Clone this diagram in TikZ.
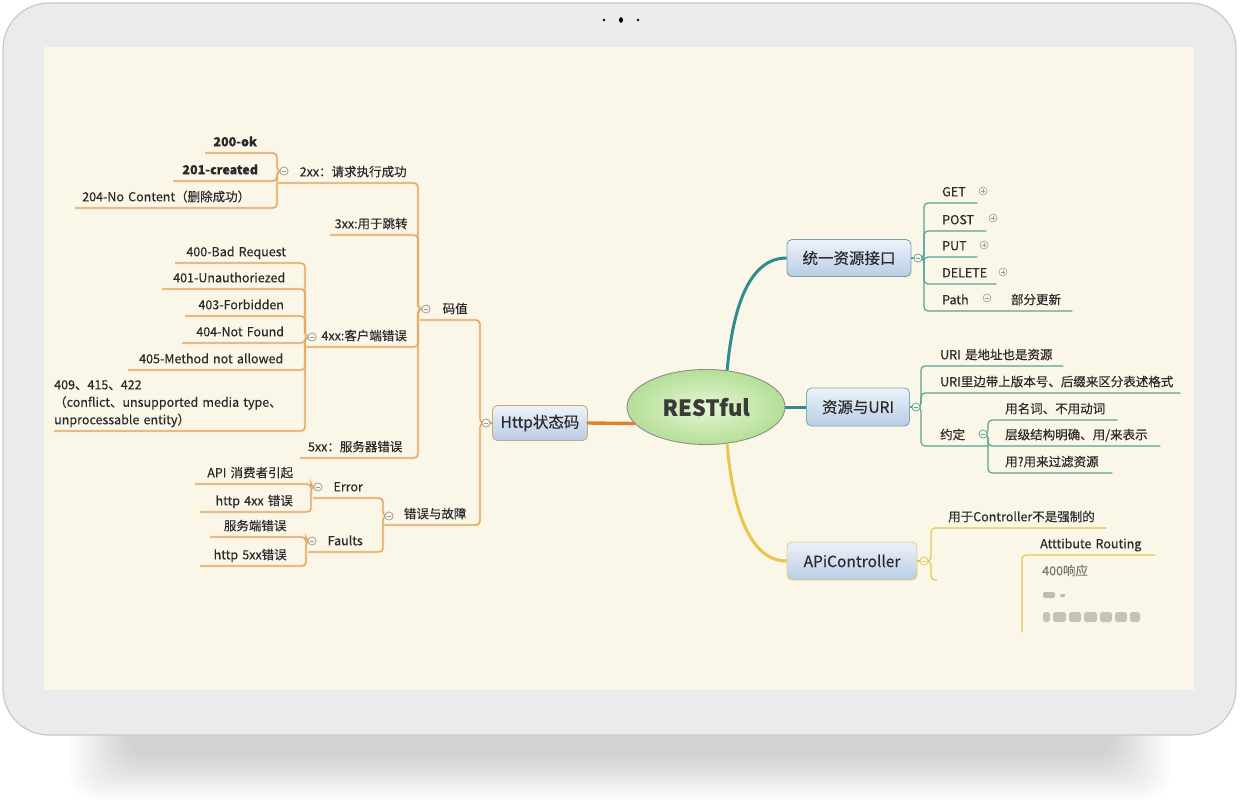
\documentclass[tikz,border=0pt]{standalone}
\usepackage{fontspec}
\setmainfont{Noto Sans CJK SC}[FakeBold=0.35]
\usetikzlibrary{shapes.geometric}
\definecolor{cream}{HTML}{FAF7E8}
\definecolor{framec}{HTML}{EBEBEB}
\definecolor{frameb}{HTML}{C9C9C9}
\definecolor{orl}{HTML}{E3A255}
\definecolor{ord}{HTML}{E27E32}
\definecolor{tea}{HTML}{55A597}
\definecolor{tead}{HTML}{2F8C8A}
\definecolor{yel}{HTML}{E8C64A}
\definecolor{txt}{HTML}{2A2A2A}
\definecolor{mkc}{HTML}{9A9A9A}
\definecolor{boxt}{HTML}{EDF3FB}
\definecolor{boxb}{HTML}{B9CCE5}
\definecolor{ellb}{HTML}{8C8C8C}
\definecolor{elli}{HTML}{E6F6D4}
\definecolor{ello}{HTML}{B4DF97}
\definecolor{restt}{HTML}{3A3A3A}
\definecolor{httpb}{HTML}{C8A878}
\definecolor{unib}{HTML}{7AA0A5}
\definecolor{resb}{HTML}{78B0B0}
\definecolor{apib}{HTML}{E4CD7D}
\newcommand\lfn[6][]{\node[lf,text width=#4pt,#1] (#2) at (#3,#5) {#6};}
\begin{document}
\begin{tikzpicture}[x=1pt,y=-1pt,
 lf/.style={font=\fontsize{12.5}{17.5}\selectfont, text=txt, inner xsep=0pt, inner ysep=3pt, text depth=3.5pt, anchor=south west, align=center},
 rl/.style={align=left},
 bld/.style={font=\fontsize{12.5}{17.5}\selectfont\bfseries},
 ob/.style={draw=orl, line width=1.3pt, rounded corners=4pt, preaction={draw=orl!40, line width=3.4pt, opacity=0.35}},
 tb/.style={draw=tea, line width=1.2pt, rounded corners=4pt},
 yb/.style={draw=yel, line width=1.2pt, rounded corners=4pt},
 mkm/.style={circle, draw=#1, fill=cream, line width=0.6pt, inner sep=0pt, minimum size=8pt,
   path picture={\draw[#1, line width=0.7pt] ([xshift=-2.3pt]path picture bounding box.center) -- ([xshift=2.3pt]path picture bounding box.center);}},
 mkm/.default=mkc,
 mkp/.style={circle, draw=mkc, fill=cream, line width=0.6pt, inner sep=0pt, minimum size=8pt,
   path picture={\draw[mkc, line width=0.7pt] ([xshift=-2.3pt]path picture bounding box.center) -- ([xshift=2.3pt]path picture bounding box.center);
   \draw[mkc, line width=0.7pt] ([yshift=-2.3pt]path picture bounding box.center) -- ([yshift=2.3pt]path picture bounding box.center);}},
 topic/.style={rounded corners=5pt, draw=#1, line width=0.9pt, top color=boxt, bottom color=boxb, minimum height=37pt, text=txt, font=\fontsize{15.5}{18}\selectfont, inner sep=0pt}
]
\useasboundingbox (0,0) rectangle (1240,805);
% shadow
\foreach \i in {0,...,14} {\fill[black, opacity=0.010, rounded corners=25pt] ({70+\i*4},700) rectangle ({1170-\i*4},{800-\i*3});}
% frame
\draw[rounded corners=46pt, fill=framec, draw=frameb, line width=1.2pt] (3,3) rectangle (1236,735);
\fill[cream] (44,47) rectangle (1194,690);
\fill[black] (604,20) circle (1.4);
\fill[black] (621,20) ellipse (2 and 2.8);
\fill[black] (638,20) circle (1.4);

% coordinates of buses
\coordinate (b0) at (480,0);
\coordinate (bm) at (418,0);
\coordinate (b2) at (277,0);
\coordinate (b4) at (305,0);
\coordinate (be) at (383,0);
\coordinate (ber) at (311,0);
\coordinate (bfa) at (306,0);
\coordinate (bu) at (924,0);
\coordinate (br) at (921,0);
\coordinate (by) at (988,0);
\coordinate (ba) at (931,0);
\coordinate (ahid) at (937,580);
\coordinate (arb) at (1022,632);

% central topics
\node[ellipse, draw=ellb, line width=0.9pt, inner color=elli, outer color=ello, minimum width=158pt, minimum height=75pt, inner sep=0pt, font=\fontsize{22}{26}\selectfont\bfseries, text=restt] (rest) at (706,407) {RESTful};
\node[topic=httpb, minimum width=95pt, minimum height=35pt] (http) at (540,423) {Http状态码};
\node[topic=unib, minimum width=124pt] (uni) at (849,258) {统一资源接口};
\node[topic=resb, minimum width=103pt, minimum height=38pt] (res) at (858,407) {资源与URI};
\node[topic=apib, minimum width=130pt, minimum height=38pt] (api) at (852,561) {APiController};

% main connectors
\draw[ord, line width=3.4pt, line cap=round] (http.east) -- (rest.193);
\draw[tead, line width=3pt] (rest.60) .. controls (733,305) and (750,258) .. (uni.west);
\draw[tead, line width=3pt] (rest.east) -- (res.west);
\draw[yel, line width=3pt] (rest.-60) .. controls (733,515) and (752,561) .. (api.west);

% markers (left)
\node[mkm] (mh) at (486,423) {};
\node[mkm] (mm) at (426,309) {};
\node[mkm] (m2) at (284,171) {};
\node[mkm] (m4) at (312,337) {};
\node[mkm] (me) at (389,516) {};
\node[mkm] (mer) at (318,487) {};
\node[mkm] (mfa) at (312,541) {};

% left nodes
\lfn[bld]{n200}{205}{60}{153}{200-ok}
\lfn[bld]{n201}{173}{94}{181}{201-created}
\lfn{n204}{75}{182}{208}{204-No Content（删除成功）}
\lfn{n2xx}{278}{150}{183}{2xx：请求执行成功}
\lfn{n3xx}{330}{82}{235}{3xx:用于跳转}
\lfn{n4xx}{305}{118}{347}{4xx:客户端错误}
\lfn{n5xx}{300}{110}{458}{5xx：服务器错误}
\lfn{n400}{175}{122}{263}{400-Bad Request}
\lfn{n401}{162}{134}{289}{401-Unauthoriezed}
\lfn{n403}{185}{112}{316}{403-Forbidden}
\lfn{n404}{182}{116}{343}{404-Not Found}
\lfn{n405}{128}{166}{370}{405-Method not allowed}
\lfn[rl, text depth=38.5pt]{n409}{54}{245}{431}{409、415、422\\（conflict、unsupported media type、\\unprocessable entity）}
\lfn{nmz}{420}{70}{320}{码值}
\lfn{ncw}{383}{104}{525}{错误与故障}
\lfn{nerr}{313}{70}{498}{Error}
\lfn{nfa}{308}{74}{552}{Faults}
\lfn{ne1}{195}{110}{484}{API 消费者引起}
\lfn{ne2}{200}{108}{512}{http 4xx 错误}
\lfn{nf1}{210}{90}{537}{服务端错误}
\lfn{nf2}{200}{100}{566}{http 5xx错误}

% left connectors
\draw[ob] (mh.east) -- (http.west);
\foreach \c in {nmz,ncw} \draw[ob] (\c.south west) -- (b0 |- \c.south) -- (b0 |- mh) -- (mh.west);
\foreach \c in {n2xx,n3xx,n4xx,n5xx} \draw[ob] (\c.south west) -- (bm |- \c.south) -- (bm |- mm) -- (mm.west);
\foreach \c in {n200,n201,n204} \draw[ob] (\c.south west) -- (b2 |- \c.south) -- (b2 |- m2) -- (m2.west);
\foreach \c in {n400,n401,n403,n404,n405,n409} \draw[ob] (\c.south west) -- (b4 |- \c.south) -- (b4 |- m4) -- (m4.west);
\foreach \c in {nerr,nfa} \draw[ob] (\c.south west) -- (be |- \c.south) -- (be |- me) -- (me.west);
\foreach \c in {ne1,ne2} \draw[ob] (\c.south west) -- (ber |- \c.south) -- (ber |- mer) -- (mer.west);
\foreach \c in {nf1,nf2} \draw[ob] (\c.south west) -- (bfa |- \c.south) -- (bfa |- mfa) -- (mfa.west);
% redraw markers on top
\foreach \p in {{486,423},{426,309},{284,171},{312,337},{389,516},{318,487},{312,541}} \node[mkm] at (\p) {};

% right markers
\node[mkm=tea] (mu) at (918,258) {};
\node[mkm=tea] (mr) at (916,407) {};
\node[mkm=tea] (my) at (983,434) {};
\node[mkm=yel] (ma) at (924,561) {};
\node[mkp] (pg) at (983,191) {};
\node[mkp] (pp) at (993,218) {};
\node[mkp] (pu) at (984,245) {};
\node[mkp] (pd) at (1003,272) {};
\node[mkm] (mpa) at (987,298) {};

% right nodes
\lfn[rl]{rget}{942}{35}{203}{GET}
\lfn[rl]{rpost}{942}{44}{231}{POST}
\lfn[rl]{rput}{942}{35}{257}{PUT}
\lfn[rl]{rdel}{942}{54}{284}{DELETE}
\lfn[rl]{rpath}{942}{130}{311}{Path}
\node[lf, anchor=center, text depth=0pt] (rbf) at (1036,299) {部分更新};
\lfn[rl]{ru1}{940}{123}{366}{URI 是地址也是资源}
\lfn[rl]{ru2}{940}{240}{393}{URI里边带上版本号、后缀来区分表述格式}
\lfn[rl]{ryd}{940}{48}{446}{约定}
\lfn[rl]{rc1}{1005}{112}{420}{用名词、不用动词}
\lfn[rl]{rc2}{1005}{155}{446}{层级结构明确、用/来表示}
\lfn[rl]{rc3}{1005}{107}{473}{用?用来过滤资源}
\lfn[rl]{ra1}{948}{158}{528}{用于Controller不是强制的}
\lfn[rl]{rar}{1040}{115}{555}{Atttibute Routing}

% right connectors
\draw[tb] (uni.east) -- (mu.west);
\foreach \c in {rget,rpost,rput,rdel,rpath} \draw[tb] (mu.east) -- (bu |- mu) -- (bu |- \c.south) -- (\c.south east);
\draw[tb] (res.east) -- (mr.west);
\foreach \c in {ru1,ru2,ryd} \draw[tb] (mr.east) -- (br |- mr) -- (br |- \c.south) -- (\c.south east);
\foreach \c in {rc1,rc2,rc3} \draw[tb] (my.east) -- (by |- my) -- (by |- \c.south) -- (\c.south east);
\draw[yb] (api.east) -- (ma.west);
\draw[yb] (ma.east) -- (ba |- ma) -- (ba |- ra1.south) -- (ra1.south east);
\draw[yb] (ma.east) -- (ba |- ma) -- (ba |- ahid) -- (ahid);
\draw[yb] (rar.south east) -- (arb |- rar.south) -- (arb);
\node[mkm=tea] at (918,258) {};
\node[mkm=tea] at (916,407) {};
\node[mkm=tea] at (983,434) {};
\node[mkm=yel] at (924,561) {};

% blurred leftovers
\node[lf, anchor=west, text depth=0pt, text=black!70, opacity=0.7] (r400) at (1042,570) {400响应};
\fill[black!55, opacity=0.45, rounded corners=2pt] (1043,592) rectangle (1055,598);
\fill[black!55, opacity=0.45, rounded corners=1pt] (1060,594) rectangle (1065,597);
\foreach \a/\b in {1043/1050,1053/1066,1069/1081,1084/1097,1100/1112,1115/1127,1130/1140}
  \fill[black!55, opacity=0.4, rounded corners=2.5pt] (\a,612) rectangle (\b,622);
\end{tikzpicture}
\end{document}
